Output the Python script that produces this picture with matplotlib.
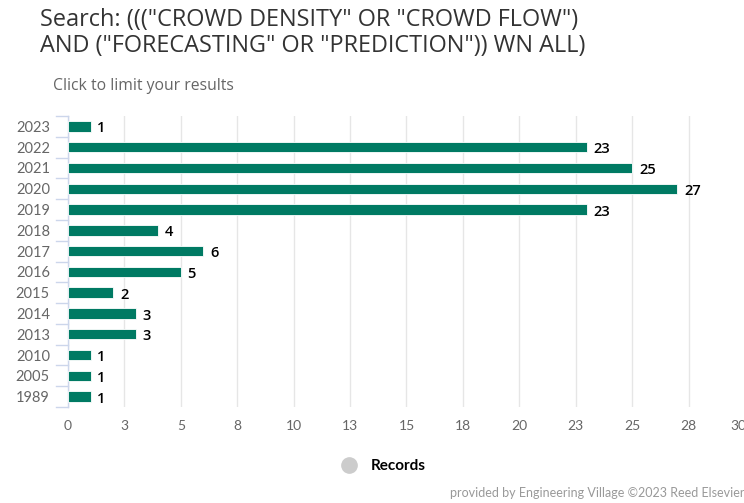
import numpy as np
import matplotlib.pyplot as plt
import matplotlib.transforms as mtransforms
from matplotlib.lines import Line2D

# records per publication year
years = ['2023', '2022', '2021', '2020', '2019', '2018', '2017',
         '2016', '2015', '2014', '2013', '2010', '2005', '1989']
records = [1, 23, 25, 27, 23, 4, 6, 5, 2, 3, 3, 1, 1, 1]

bar_color = '#007a63'
W, H = 744, 503

fig = plt.figure(figsize=(W / 100, H / 100), dpi=100)
ax = fig.add_axes([68 / W, 1 - 407 / H, (745 - 68) / W, (407 - 116) / H])

y = np.arange(len(years))
ax.barh(y, records, height=0.5, color=bar_color, edgecolor='white', linewidth=0.6, zorder=3)
for yi, v in zip(y, records):
    ax.text(v + 0.3, yi + 0.1, str(v), va='center', ha='left',
            fontsize=10.5, fontweight='semibold', color='black', family='Open Sans')

ax.set_ylim(len(years) - 0.5, -0.5)
ax.set_xlim(0, 30)

# x ticks every 2.5, labels rounded half-up
xt = np.arange(0, 30.1, 2.5)
ax.set_xticks(xt)
ax.set_xticklabels([str(int(np.floor(t + 0.5))) for t in xt])
ax.tick_params(axis='x', length=0, pad=9, labelsize=10, labelcolor='#666666')
ax.grid(axis='x', color='#e6e6e6', linewidth=1, zorder=0)
# nudge the last label inward so it is not lost at the edge
last = ax.get_xticklabels()[-1]
last.set_transform(last.get_transform() +
                   mtransforms.ScaledTranslation(-7 / 100, 0, fig.dpi_scale_trans))

ax.set_yticks(y)
ax.set_yticklabels(years)
ax.tick_params(axis='y', length=0, pad=13, labelsize=10.5, labelcolor='#666666')
for lab in ax.get_xticklabels() + ax.get_yticklabels():
    lab.set_family('Lato')

# category boundary tick marks on the left
for b in np.arange(-0.5, len(years), 1.0):
    ax.plot([-0.53, 0], [b, b], color='#ccd6eb', lw=1, clip_on=False, zorder=4)

for side in ['top', 'right', 'bottom']:
    ax.spines[side].set_visible(False)
ax.spines['left'].set_color('#ccd6eb')
ax.spines['left'].set_linewidth(1)

fig.text(40 / W, 1 - 8 / H,
         'Search: ((("CROWD DENSITY" OR "CROWD FLOW")\nAND ("FORECASTING" OR "PREDICTION")) WN ALL)',
         ha='left', va='top', fontsize=16.9, color='#333333', family='Open Sans', linespacing=1.12)
fig.text(53 / W, 1 - 86 / H, 'Click to limit your results', ha='left', va='center',
         fontsize=11.3, color='#666666', family='Open Sans')

handle = Line2D([], [], marker='o', linestyle='none', markersize=11,
                markerfacecolor='#cccccc', markeredgecolor='#cccccc')
fig.legend([handle], ['Records'], loc='center', bbox_to_anchor=(380 / W, 1 - 466 / H),
           frameon=False, handletextpad=0.4,
           prop={'family': 'Lato', 'weight': 'bold', 'size': 11})
fig.text(1.0, 1 - 493 / H, 'provided by Engineering Village ©2023 Reed Elsevier',
         ha='right', va='center', fontsize=9, color='#999999', family='Lato')

fig.savefig('out.png', dpi=100)
